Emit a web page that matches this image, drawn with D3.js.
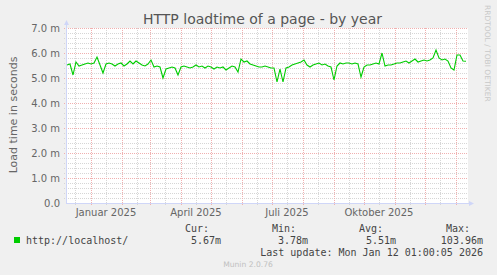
<!DOCTYPE html>
<html><head><meta charset="utf-8">
<script src="https://cdn.jsdelivr.net/npm/d3@7"></script>
<style>html,body{margin:0;padding:0;background:#F0F0F0;}svg{display:block;}</style>
</head><body>
<svg id="chart" width="497" height="275"></svg>
<script>
// ---- data ----
const title = "HTTP loadtime of a page - by year";
const yAxisLabel = "Load time in seconds";
const seriesName = "http://localhost/";
const lastUpdate = "2026-01-12T01:00:05";
const spanDays = 400;
const sampleStepDays = 3;
const yTicks = [0, 1, 2, 3, 4, 5, 6, 7];
const yTickLabels = ["0.0", "1.0 m", "2.0 m", "3.0 m", "4.0 m", "5.0 m", "6.0 m", "7.0 m"];
const xLabelMonths = ["2025-01-01", "2025-04-01", "2025-07-01", "2025-10-01"];
const xLabelTexts = ["Januar 2025", "April 2025", "Juli 2025", "Oktober 2025"];
const statHeaders = ["Cur:", "Min:", "Avg:", "Max:"];
const statValues = ["5.67m", "3.78m", "5.51m", "103.96m"];
const loadTime = [
 5.52,5.56,5.12,5.64,5.48,5.52,5.56,5.60,5.56,5.60,5.84,5.52,5.20,5.56,5.60,5.56,5.48,5.56,5.60,5.48,
 5.56,5.68,5.56,5.68,5.60,5.52,5.48,5.56,5.72,5.44,5.48,5.44,5.00,5.36,5.40,5.44,5.40,5.12,5.44,5.48,
 5.44,5.40,5.44,5.52,5.44,5.48,5.40,5.48,5.44,5.36,5.44,5.40,5.44,5.32,5.40,5.48,5.44,5.24,5.76,5.64,
 5.68,5.56,5.52,5.48,5.44,5.44,5.48,5.44,5.40,5.40,4.84,5.36,4.84,5.40,5.44,5.52,5.56,5.60,5.64,5.72,
 5.52,5.44,5.52,5.56,5.60,5.52,5.56,5.48,5.44,4.92,5.48,5.60,5.56,5.60,5.60,5.56,5.60,5.56,5.04,5.44,
 5.52,5.52,5.56,5.60,5.56,6.00,5.48,5.52,5.52,5.56,5.60,5.60,5.64,5.68,5.60,5.68,5.76,5.64,5.68,5.72,
 5.68,5.72,5.80,6.12,5.80,5.72,5.76,5.68,5.40,5.32,5.92,5.92,5.68,5.67
];

// ---- layout ----
const svg = d3.select("#chart");
const W = 497, H = 275;
const plotL = 66, plotR = 467, plotT = 28, plotB = 203;
const endDate = new Date(lastUpdate);
const startDate = d3.timeDay.offset(endDate, -spanDays);

const x = d3.scaleTime().domain([startDate, endDate]).range([plotL + 1, plotR]);
const y = d3.scaleLinear().domain([0, 7]).range([plotB, plotT]);

const FONT = "'DejaVu Sans', sans-serif";
const MONO = "'DejaVu Sans Mono', monospace";
const txt = "#666666";
const axisCol = "#CFD6F8";
const gridCol = "#d6d6d6";
const mgridCol = "#f0b0b0";

svg.append("rect").attr("width", W).attr("height", H).attr("fill", "#F0F0F0");
svg.append("rect").attr("x", plotL).attr("y", plotT).attr("width", plotR - plotL + 1).attr("height", plotB - plotT)
  .attr("fill", "#FFFFFF");

const g = svg.append("g");
const px = v => Math.round(v) + 0.5;

// horizontal minor grid
const minorY = d3.range(1, 35).map(i => i * 0.2).filter(v => Math.abs(v - Math.round(v)) > 1e-6);
minorY.forEach(v => {
  const yy = px(y(v));
  g.append("line").attr("x1", plotL - 2).attr("x2", plotR + 1).attr("y1", yy).attr("y2", yy)
    .attr("stroke", gridCol).attr("stroke-dasharray", "1,1");
});
// vertical minor grid (mid-month)
const months = d3.timeMonth.range(d3.timeMonth.floor(startDate), endDate);
months.forEach(m => {
  const mid = new Date(m.getFullYear(), m.getMonth(), 16);
  if (mid > startDate && mid < endDate) {
    const xx = px(x(mid));
    g.append("line").attr("x1", xx).attr("x2", xx).attr("y1", plotT).attr("y2", plotB + 2)
      .attr("stroke", gridCol).attr("stroke-dasharray", "1,1");
  }
});
// horizontal major grid
yTicks.filter(v => v > 0).forEach(v => {
  const yy = px(y(v));
  g.append("line").attr("x1", plotL - 2).attr("x2", plotR + 1).attr("y1", yy).attr("y2", yy)
    .attr("stroke", mgridCol).attr("stroke-dasharray", "1,1");
});
// vertical major grid (month starts)
const monthStarts = d3.timeMonth.range(startDate, endDate);
monthStarts.forEach(m => {
  const xx = px(x(m));
  g.append("line").attr("x1", xx).attr("x2", xx).attr("y1", plotT).attr("y2", plotB + 3)
    .attr("stroke", mgridCol).attr("stroke-dasharray", "1,1");
});

// axes
g.append("line").attr("x1", plotL + 0.5).attr("x2", plotL + 0.5).attr("y1", plotB + 1).attr("y2", plotT - 3)
  .attr("stroke", axisCol);
g.append("line").attr("x1", plotL).attr("x2", plotR + 3).attr("y1", plotB + 0.5).attr("y2", plotB + 0.5)
  .attr("stroke", axisCol);
g.append("path").attr("d", `M${plotL - 2},${plotT - 3} L${plotL + 0.5},${plotT - 8} L${plotL + 3},${plotT - 3} Z`).attr("fill", axisCol);
g.append("path").attr("d", `M${plotR + 2},${plotB - 2} L${plotR + 7},${plotB + 0.5} L${plotR + 2},${plotB + 3} Z`).attr("fill", axisCol);

// data line
const dates = loadTime.map((_, i) => d3.timeDay.offset(startDate, i * sampleStepDays));
const line = d3.line().x((d, i) => x(dates[i])).y(d => y(d));
g.append("path").datum(loadTime).attr("d", line).attr("fill", "none")
  .attr("stroke", "#00CC00").attr("stroke-width", 1.1);

// y tick labels
yTicks.forEach((v, i) => {
  svg.append("text").attr("x", 60).attr("y", y(v) + 4).attr("text-anchor", "end")
    .attr("font-family", FONT).attr("font-size", 10).attr("fill", txt).text(yTickLabels[i]);
});
// x labels (centered mid-month)
xLabelMonths.forEach((m, i) => {
  const d = new Date(m + "T00:00:00");
  const mid = d3.timeDay.offset(d, 15);
  svg.append("text").attr("x", x(mid)).attr("y", 216).attr("text-anchor", "middle")
    .attr("font-family", FONT).attr("font-size", 10).attr("fill", txt).text(xLabelTexts[i]);
});

// title
svg.append("text").attr("x", 262.5).attr("y", 24).attr("text-anchor", "middle")
  .attr("font-family", FONT).attr("font-size", 14).attr("fill", "#555").text(title);
// y axis label
svg.append("text").attr("transform", "translate(17,115) rotate(-90)").attr("text-anchor", "middle")
  .attr("font-family", FONT).attr("font-size", 11).attr("fill", txt).text(yAxisLabel);
// rrdtool watermark
svg.append("text").attr("transform", "translate(485,5) rotate(90)").attr("text-anchor", "start")
  .attr("font-family", FONT).attr("font-size", 7.5).attr("fill", "#c8c8c8").text("RRDTOOL / TOBI OETIKER");

// legend
svg.append("rect").attr("x", 14).attr("y", 237).attr("width", 6).attr("height", 6).attr("fill", "#00CC00");
svg.append("text").attr("x", 26).attr("y", 243.5).attr("font-family", MONO).attr("font-size", 10)
  .attr("fill", "#444").text(seriesName);
const headerRight = [209, 296, 383, 470];
const valueRight = [221, 308, 396, 483];
statHeaders.forEach((h, i) => {
  svg.append("text").attr("x", headerRight[i]).attr("y", 231.5).attr("text-anchor", "end")
    .attr("font-family", MONO).attr("font-size", 10).attr("fill", "#444").text(h);
  svg.append("text").attr("x", valueRight[i]).attr("y", 243.5).attr("text-anchor", "end")
    .attr("font-family", MONO).attr("font-size", 10).attr("fill", "#444").text(statValues[i]);
});
svg.append("text").attr("x", 483).attr("y", 255.5).attr("text-anchor", "end")
  .attr("font-family", MONO).attr("font-size", 10).attr("fill", "#444")
  .text("Last update: Mon Jan 12 01:00:05 2026");
svg.append("text").attr("x", 248).attr("y", 267).attr("text-anchor", "middle")
  .attr("font-family", FONT).attr("font-size", 7.6).attr("fill", "#c0c0c0").text("Munin 2.0.76");
</script>
</body></html>
